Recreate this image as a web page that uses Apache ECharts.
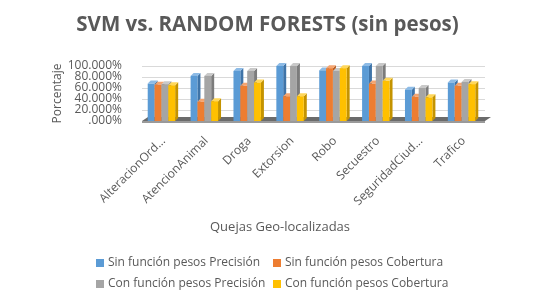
<!DOCTYPE html>
<html><head><meta charset="utf-8">
<script src="https://cdn.jsdelivr.net/npm/echarts@6/dist/echarts.min.js"></script>
<style>html,body{margin:0;padding:0;background:#fff}#c{width:535px;height:300px}</style>
</head><body><div id="c"></div>
<script>
var categories = ['AlteracionOrd...', 'AtencionAnimal', 'Droga', 'Extorsion', 'Robo', 'Secuestro', 'SeguridadCiud...', 'Trafico'];
var seriesNames = ['Sin función pesos Precisión', 'Sin función pesos Cobertura', 'Con función pesos Precisión', 'Con función pesos Cobertura'];
var sinPrecision = [68, 82, 91, 100, 92, 100, 57, 70];
var sinCobertura = [66, 35, 64, 45, 96, 68, 44, 64];
var conPrecision = [67, 82, 91, 100, 91, 100, 60, 71];
var conCobertura = [65, 36, 70, 45, 96, 73, 43, 67];
var yTicks = [0, 20, 40, 60, 80, 100];
var yTicksA = yTicks.filter(function (v, i) { return i % 2 === 0; });
var yTicksB = yTicks.filter(function (v, i) { return i % 2 === 1; });

var colors = ['#5b9bd5', '#ed7d31', '#a5a5a5', '#ffc000'];
var sideColors = ['#3f74a8', '#b85d22', '#7c7c7c', '#c49300'];
var topColors = ['#8dbbe6', '#f4a571', '#c9c9c9', '#ffd75a'];
var allData = [sinPrecision, sinCobertura, conPrecision, conCobertura];

function makeRender(si) {
  return function (params, api) {
    var cat = api.value(0), val = api.value(1);
    var base = api.coord([cat, 0]);
    var top = api.coord([cat, val]);
    var band = api.size([1, 0])[0];
    var bw = band * 0.16, dx = 3, dy = 3;
    var groupW = bw * 4;
    var x0 = base[0] - groupW / 2 + si * bw - 2;
    var y0 = base[1], y1 = top[1];
    return {
      type: 'group',
      children: [
        { type: 'polygon', shape: { points: [[x0 + bw, y1], [x0 + bw + dx, y1 - dy], [x0 + bw + dx, y0 - dy], [x0 + bw, y0]] }, style: { fill: sideColors[si] } },
        { type: 'polygon', shape: { points: [[x0, y1], [x0 + dx, y1 - dy], [x0 + bw + dx, y1 - dy], [x0 + bw, y1]] }, style: { fill: topColors[si] } },
        { type: 'rect', shape: { x: x0, y: y1, width: bw, height: y0 - y1 }, style: { fill: colors[si] } }
      ]
    };
  };
}

var series = allData.map(function (arr, si) {
  return {
    name: seriesNames[si],
    type: 'custom',
    renderItem: makeRender(si),
    itemStyle: { color: colors[si] },
    data: arr.map(function (v, i) { return [i, v]; }),
    encode: { x: 0, y: 1 },
    z: 3
  };
});

// floor slab
series.push({
  type: 'custom',
  silent: true,
  renderItem: function (params, api) {
    if (params.dataIndex !== 0) return null;
    var a = api.coord([0, 0]);
    var band = api.size([1, 0])[0];
    var xl = a[0] - band / 2, xr = xl + band * categories.length;
    var y = a[1];
    return {
      type: 'group', children: [
        { type: 'polygon', shape: { points: [[xl, y], [xl + 6, y - 4], [xr + 6, y - 4], [xr, y]] }, style: { fill: '#6b6b6b' } },
        { type: 'rect', shape: { x: xl, y: y, width: xr - xl, height: 2 }, style: { fill: '#9a9a9a' } }
      ]
    };
  },
  data: [[0, 0]],
  encode: { x: 0, y: 1 },
  z: 2
});

var legendPos = [[96, 257], [273, 257], [96, 278], [273, 278]];
var legends = seriesNames.map(function (n, i) {
  return {
    data: [n], left: legendPos[i][0], top: legendPos[i][1], padding: 0,
    itemWidth: 8, itemHeight: 8, icon: 'rect', itemGap: 4,
    textStyle: { color: '#595959', fontSize: 12, fontFamily: 'Open Sans', padding: [0, 0, 0, -1] }
  };
});

function yLabelFmt(v) { return (v === 0 ? '' : v) + '.000%'; }
function yAxisDef(vals, withName) {
  return {
    type: 'value', min: 0, max: 100, interval: 20, position: 'left', offset: 0,
    axisLine: { show: false }, axisTick: { show: false },
    axisLabel: {
      fontSize: 12, color: '#595959', fontFamily: 'Open Sans', margin: 20,
      customValues: vals, showMinLabel: true, showMaxLabel: true,
      formatter: yLabelFmt
    },
    splitLine: { show: withName, lineStyle: { color: '#d9d9d9' } },
    name: withName ? 'Porcentaje' : '', nameLocation: 'middle', nameGap: 76, nameRotate: 90,
    nameTextStyle: { fontSize: 12, color: '#595959', fontFamily: 'Open Sans' }
  };
}

var chart = echarts.init(document.getElementById('c'), null, { renderer: 'canvas' });
chart.setOption({
  animation: false,
  color: colors,
  title: {
    text: 'SVM vs. RANDOM FORESTS (sin pesos)', left: 'center', top: 10,
    textStyle: { fontSize: 20.5, fontWeight: 'bold', color: '#595959', fontFamily: 'Open Sans' }
  },
  legend: legends,
  graphic: [{
    type: 'text', left: 210, top: 221,
    style: { text: 'Quejas Geo-localizadas', fontSize: 13, fill: '#595959', fontFamily: 'Open Sans' }
  }],
  grid: { left: 142, right: 50, top: 66, height: 55 },
  xAxis: {
    type: 'category', data: categories,
    axisLine: { show: false }, axisTick: { show: false },
    axisLabel: { rotate: 45, interval: 0, fontSize: 12, color: '#595959', fontFamily: 'Open Sans', margin: 18 }
  },
  yAxis: [yAxisDef(yTicksA, true), yAxisDef(yTicksB, false)],
  series: series
});
</script></body></html>
